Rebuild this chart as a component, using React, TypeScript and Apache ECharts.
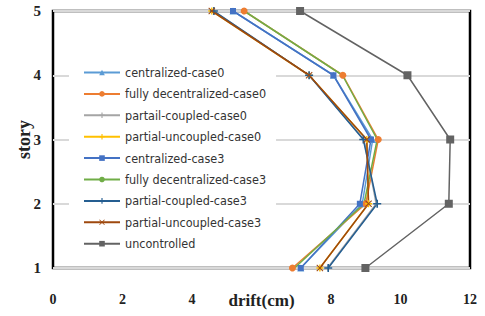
import React, { useEffect, useRef } from "react";
import * as echarts from "echarts";

const stories = [1, 2, 3, 4, 5];
const xTicks = [0, 2, 4, 6, 8, 10, 12];
const seriesNames = [
  "centralized-case0",
  "fully decentralized-case0",
  "partail-coupled-case0",
  "partial-uncoupled-case0",
  "centralized-case3",
  "fully decentralized-case3",
  "partial-coupled-case3",
  "partial-uncoupled-case3",
  "uncontrolled",
];
const centralizedCase0 = [7.13, 8.9, 9.2, 8.07, 5.18];
const fullyDecentralizedCase0 = [6.89, 9.0, 9.36, 8.34, 5.5];
const partailCoupledCase0 = [7.9, 9.3, 8.95, 7.37, 4.62];
const partialUncoupledCase0 = [7.68, 9.08, 9.03, 7.37, 4.57];
const centralizedCase3 = [7.13, 8.83, 9.15, 8.07, 5.18];
const fullyDecentralizedCase3 = [6.95, 8.95, 9.33, 8.33, 5.5];
const partialCoupledCase3 = [7.92, 9.33, 8.93, 7.37, 4.63];
const partialUncoupledCase3 = [7.68, 9.08, 9.03, 7.37, 4.57];
const uncontrolled = [8.99, 11.39, 11.43, 10.2, 7.11];

const values = [
  centralizedCase0,
  fullyDecentralizedCase0,
  partailCoupledCase0,
  partialUncoupledCase0,
  centralizedCase3,
  fullyDecentralizedCase3,
  partialCoupledCase3,
  partialUncoupledCase3,
  uncontrolled,
];
const colors = ["#5B9BD5", "#ED7D31", "#A5A5A5", "#FFC000", "#4472C4", "#70AD47", "#255E91", "#9E480E", "#636363"];
const plus = "path://M4,0H6V4H10V6H6V10H4V6H0V4H4Z";
const cross = "path://M1,0L5,4L9,0L10,1L6,5L10,9L9,10L5,6L1,10L0,9L4,5L0,1Z";
const symbols = ["triangle", "circle", plus, plus, "rect", "none", plus, cross, "rect"];
const symbolSizes = [7, 7, 5, 7, 6, 4, 8, 7, 8];

export default function App() {
  const ref = useRef<HTMLDivElement>(null);
  useEffect(() => {
    const chart = echarts.init(ref.current!, null, { renderer: "svg" });
    const serif = "'Liberation Serif', 'Times New Roman', serif";
    chart.setOption({
      animation: false,
      backgroundColor: "#fff",
      grid: {
        left: 53,
        right: 15,
        top: 11,
        bottom: 48,
        show: true,
        borderColor: "#000",
        borderWidth: 2.5,
        outerBoundsMode: "none",
        containLabel: false,
      },
      legend: {
        orient: "vertical",
        left: 69,
        top: 61,
        padding: [4, 10, 4, 14],
        backgroundColor: "#fff",
        itemWidth: 36,
        itemHeight: 7,
        itemGap: 6.4,
        data: seriesNames,
        textStyle: { fontFamily: "'DejaVu Sans Condensed', 'Liberation Sans', sans-serif", fontSize: 12.5, lineHeight: 15, color: "#333" },
      },
      xAxis: {
        type: "value",
        min: 0,
        max: 12,
        interval: 2,
        name: "drift(cm)",
        nameLocation: "middle",
        nameGap: 24,
        nameMoveOverlap: false,
        nameTextStyle: { fontFamily: serif, fontWeight: "bold", fontSize: 17, color: "#222" },
        axisLine: { show: false },
        axisTick: { show: false },
        splitLine: { show: false },
        axisLabel: {
          margin: 24,
          fontFamily: serif,
          fontWeight: "bold",
          fontSize: 14,
          color: "#222",
          formatter: (v: number) => (xTicks.includes(v) && v !== 6 ? String(v) : ""),
        },
      },
      yAxis: {
        type: "value",
        min: 1,
        max: 5,
        interval: 1,
        name: "story",
        nameLocation: "middle",
        nameGap: 20,
        nameMoveOverlap: false,
        nameTextStyle: { fontFamily: serif, fontWeight: "bold", fontSize: 18, color: "#222" },
        axisLine: { show: false },
        axisTick: { show: false },
        splitLine: { show: true, lineStyle: { color: "#D9D9D9", width: 2 } },
        axisLabel: { margin: 12, fontFamily: serif, fontWeight: "bold", fontSize: 15, color: "#222" },
      },
      series: seriesNames.map((name, k) => ({
        name,
        type: "line",
        data: stories.map((s, i) => [values[k][i], s]),
        symbol: symbols[k],
        symbolSize: symbolSizes[k],
        showSymbol: true,
        color: colors[k],
        lineStyle: { width: 1.5, color: colors[k] },
        itemStyle: { color: colors[k] },
      })),
    });
    return () => chart.dispose();
  }, []);
  return <div ref={ref} style={{ width: 485, height: 316, position: "absolute", left: 0, top: 0 }} />;
}
